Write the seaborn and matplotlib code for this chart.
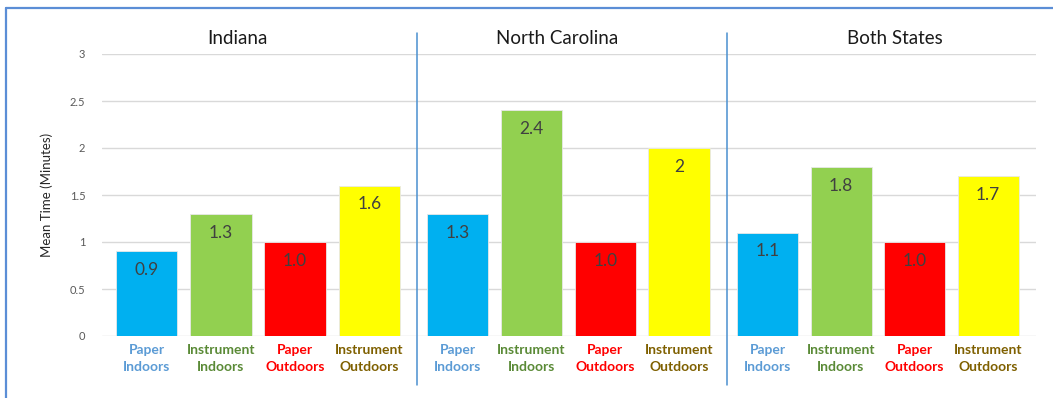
import matplotlib
matplotlib.use("Agg")
import matplotlib.pyplot as plt
from matplotlib.lines import Line2D
import numpy as np
import pandas as pd
import seaborn as sns

# Chart data
states = ["Indiana", "North Carolina", "Both States"]
conditions = ["Paper\nIndoors", "Instrument\nIndoors", "Paper\nOutdoors", "Instrument\nOutdoors"]
indiana = [0.9, 1.3, 1.0, 1.6]
north_carolina = [1.3, 2.4, 1.0, 2.0]
both_states = [1.1, 1.8, 1.0, 1.7]
indiana_labels = ["0.9", "1.3", "1.0", "1.6"]
north_carolina_labels = ["1.3", "2.4", "1.0", "2"]
both_states_labels = ["1.1", "1.8", "1.0", "1.7"]
y_ticks = [0, 0.5, 1, 1.5, 2, 2.5, 3]
y_tick_labels = ["0", "0.5", "1", "1.5", "2", "2.5", "3"]

bar_colors = ["#00B0F0", "#92D050", "#FF0000", "#FFFF00"]
tick_colors = ["#5B9BD5", "#5A8A36", "#FF0000", "#7F6000"]

sns.set_theme(style="white")
plt.rcParams["font.family"] = ["Lato", "DejaVu Sans"]

W, H = 1053, 398
fig = plt.figure(figsize=(W / 100, H / 100), dpi=100)
fig.patch.set_facecolor("white")

# panel edges in pixels
edges = [102, 417, 727, 1036]
x_limits = [(-0.6, 3.64), (-0.55, 3.65), (-0.55, 3.65)]
top_px, bottom_px = 54, 336
y_lo, y_hi = 0, 3

series = [indiana, north_carolina, both_states]
series_labels = [indiana_labels, north_carolina_labels, both_states_labels]

axes = []
for i in range(3):
    left = edges[i] / W
    width = (edges[i + 1] - edges[i]) / W
    ax = fig.add_axes([left, 1 - bottom_px / H, width, (bottom_px - top_px) / H])
    df = pd.DataFrame({"condition": conditions, "minutes": series[i]})
    sns.barplot(data=df, x="condition", y="minutes", hue="condition",
                palette=bar_colors, saturation=1, legend=False, width=0.83,
                edgecolor="#E8E8E8", linewidth=0.6, ax=ax, zorder=3)
    ax.set_ylim(y_lo, y_hi)
    ax.set_xlim(*x_limits[i])
    ax.set_yticks(y_ticks)
    ax.grid(axis="y", color="#D9D9D9", linewidth=1.0, zorder=0)
    ax.set_axisbelow(True)
    for s in ax.spines.values():
        s.set_visible(False)
    ax.set_xlabel("")
    ax.set_ylabel("")
    ax.tick_params(axis="x", length=0, pad=6)
    ax.set_xticks(range(4))
    ax.set_xticklabels(conditions, fontsize=10, fontweight="bold", linespacing=1.5)
    for lbl, c in zip(ax.get_xticklabels(), tick_colors):
        lbl.set_color(c)
    if i == 0:
        ax.set_yticklabels(y_tick_labels, fontsize=8, color="#595959")
        ax.tick_params(axis="y", length=0, pad=12)
        ax.set_ylabel("Mean Time (Minutes)", fontsize=9.5, color="#262626", labelpad=12)
    else:
        ax.tick_params(axis="y", left=False, labelleft=False)
    # value labels inside bars
    for patch, txt in zip(ax.patches, series_labels[i]):
        ax.annotate(txt, (patch.get_x() + patch.get_width() / 2, patch.get_height()),
                    xytext=(0, -13.5), textcoords="offset points",
                    ha="center", va="center", fontsize=12.5, color="#404040", zorder=5)
    axes.append(ax)

# panel titles
title_x = [237, 557, 895]
for name, x in zip(states, title_x):
    fig.text(x / W, 1 - 38 / H, name, ha="center", va="center", fontsize=13.5, color="#1A1A1A")

# vertical dividers between panels
for x in [417, 727]:
    fig.add_artist(Line2D([x / W, x / W], [1 - 33 / H, 1 - 385 / H],
                          color="#4A90D0", linewidth=1.1))

# outer frame (top and left)
frame_c = "#5B8ED6"
fig.add_artist(Line2D([6 / W, 1.0], [1 - 8 / H, 1 - 8 / H], color=frame_c, linewidth=1.6))
fig.add_artist(Line2D([6 / W, 6 / W], [1 - 8 / H, 0.0], color=frame_c, linewidth=1.6))

fig.savefig("out.png", dpi=100, facecolor="white")
